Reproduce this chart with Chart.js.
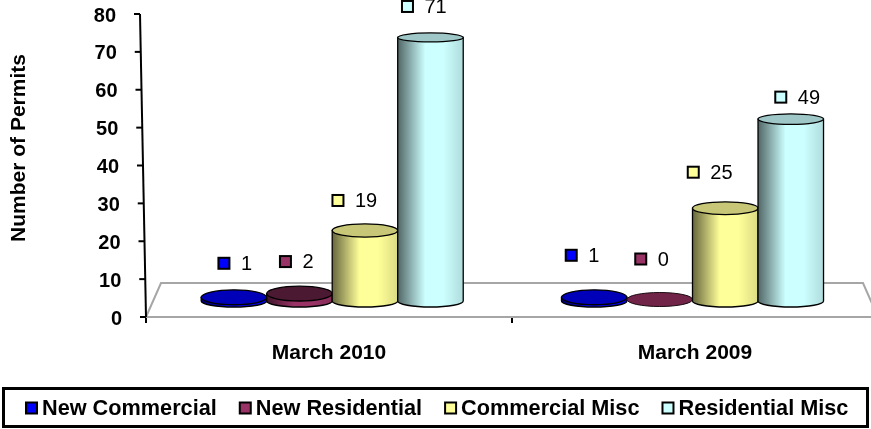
<!DOCTYPE html>
<html>
<head>
<meta charset="utf-8">
<title>Number of Permits</title>
<script src="https://cdn.jsdelivr.net/npm/chart.js@4"></script>
<style>
  html, body { margin: 0; padding: 0; background: #fff; overflow: hidden; }
  canvas { display: block; }
</style>
</head>
<body>
<canvas id="permits" width="880" height="429"></canvas>
<script>
const categories = ["March 2010", "March 2009"];
const seriesNames = ["New Commercial", "New Residential", "Commercial Misc", "Residential Misc"];
const newCommercial = [1, 1];
const newResidential = [2, 0];
const commercialMisc = [19, 25];
const residentialMisc = [71, 49];
const seriesColors = ["#0000ff", "#993366", "#ffff99", "#ccffff"];

const FONT = '"Liberation Sans", Arial, sans-serif';

// the picture is a fake 3d one, so the columns sit back from the axis
const groupShift = [3.2, -2.5];
const floorDepth = 34;
const columnLift = 16;
const columnSquash = 0.98;
const axisLean = 6;
const topShade = [0.28, 0.5, 0.22, 0.22];

// hand placed value labels, relative to centre and top of each column [series][group]
const labelOffsets = [
  [[-10, -34], [-23, -42]],
  [[-14, -32], [-19, -42]],
  [[-27, -30], [-32, -36]],
  [[-23, -31], [-10, -22]]
];

function drawMarker(ctx, x, y, color) {
  ctx.fillStyle = color;
  ctx.strokeStyle = "#000";
  ctx.lineWidth = 2;
  ctx.fillRect(x - 5.5, y - 5.5, 11, 11);
  ctx.strokeRect(x - 5.5, y - 5.5, 11, 11);
}

function drawColumn(ctx, cx, top, base, width, color, shade) {
  const left = cx - width / 2;
  const rx = width / 2;
  const height = base - top;
  const ryBottom = 6;
  const ryTop = Math.max(4.5, 7.5 - height * 0.012);

  if (height <= 0) {
    ctx.beginPath();
    ctx.ellipse(cx, base - 1.5, rx, 7, 0, 0, Math.PI * 2);
    ctx.fillStyle = "#722448";
    ctx.fill();
    ctx.lineWidth = 1;
    ctx.strokeStyle = "#1a0a12";
    ctx.stroke();
    return;
  }

  ctx.beginPath();
  ctx.moveTo(left, top);
  ctx.lineTo(left, base);
  ctx.ellipse(cx, base, rx, ryBottom, 0, Math.PI, 0, true);
  ctx.lineTo(left + width, top);
  ctx.closePath();
  ctx.fillStyle = color;
  ctx.fill();

  const grad = ctx.createLinearGradient(left, 0, left + width, 0);
  grad.addColorStop(0, "rgba(0,0,0,0.6)");
  grad.addColorStop(0.42, "rgba(0,0,0,0)");
  grad.addColorStop(0.7, "rgba(0,0,0,0)");
  grad.addColorStop(1, "rgba(0,0,0,0.14)");
  ctx.fillStyle = grad;
  ctx.fill();
  ctx.lineWidth = 1.3;
  ctx.strokeStyle = "#000";
  ctx.stroke();

  ctx.beginPath();
  ctx.ellipse(cx, top, rx, ryTop, 0, 0, Math.PI * 2);
  ctx.fillStyle = color;
  ctx.fill();
  ctx.fillStyle = "rgba(0,0,0," + shade + ")";
  ctx.fill();
  ctx.stroke();
}

const fakeThreeD = {
  id: "fakeThreeD",
  beforeDatasetsDraw(chart) {
    const ctx = chart.ctx;
    const area = chart.chartArea;
    ctx.save();
    // floor
    ctx.strokeStyle = "#a6a6a6";
    ctx.lineWidth = 2;
    ctx.beginPath();
    ctx.moveTo(area.left, area.bottom);
    ctx.lineTo(area.left + 15, area.bottom - floorDepth);
    ctx.lineTo(area.right - 15, area.bottom - floorDepth);
    ctx.lineTo(area.right, area.bottom);
    ctx.closePath();
    ctx.stroke();
    ctx.restore();
  },
  // columns are drawn below from the bar elements instead
  beforeDatasetDraw() {
    return false;
  },
  afterDatasetsDraw(chart) {
    const ctx = chart.ctx;
    const yScale = chart.scales.y;
    const base = yScale.getPixelForValue(0) - columnLift;
    ctx.save();
    categories.forEach(function (cat, g) {
      chart.data.datasets.forEach(function (ds, s) {
        const bar = chart.getDatasetMeta(s).data[g];
        const height = (yScale.getPixelForValue(0) - bar.y) * columnSquash;
        drawColumn(ctx, bar.x + groupShift[g], base - height, base, bar.width, seriesColors[s], topShade[s]);
      });
    });

    // value labels
    ctx.textAlign = "left";
    ctx.textBaseline = "middle";
    categories.forEach(function (cat, g) {
      chart.data.datasets.forEach(function (ds, s) {
        const bar = chart.getDatasetMeta(s).data[g];
        const height = (yScale.getPixelForValue(0) - bar.y) * columnSquash;
        const mx = bar.x + groupShift[g] + labelOffsets[s][g][0];
        const my = base - height + labelOffsets[s][g][1];
        drawMarker(ctx, mx, my, seriesColors[s]);
        ctx.fillStyle = "#000";
        ctx.font = "20px " + FONT;
        ctx.fillText(ds.data[g], mx + 17, my + 1);
      });
    });
    ctx.restore();
  },
  afterDraw(chart) {
    const ctx = chart.ctx;
    const area = chart.chartArea;
    const yScale = chart.scales.y;
    ctx.save();

    // leaning y axis with its ticks and labels
    ctx.strokeStyle = "#000";
    ctx.lineWidth = 2;
    ctx.beginPath();
    ctx.moveTo(area.left, area.bottom);
    ctx.lineTo(area.left - axisLean, area.top);
    ctx.stroke();
    ctx.fillStyle = "#000";
    ctx.font = "bold 20px " + FONT;
    ctx.textAlign = "right";
    ctx.textBaseline = "middle";
    yScale.ticks.forEach(function (tick) {
      const y = yScale.getPixelForValue(tick.value);
      const x = area.left - axisLean * (y - area.bottom) / (area.top - area.bottom);
      ctx.beginPath();
      ctx.moveTo(x, y);
      ctx.lineTo(x - 6, y);
      ctx.stroke();
      ctx.fillText(tick.value, x - 24, y + 2);
    });

    // axis title
    ctx.save();
    ctx.translate(19, 148);
    ctx.rotate(-Math.PI / 2);
    ctx.textAlign = "center";
    ctx.font = "bold 21px " + FONT;
    ctx.fillText("Number of Permits", 0, 0);
    ctx.restore();

    // legend box
    ctx.strokeStyle = "#000";
    ctx.lineWidth = 3;
    ctx.strokeRect(3.5, 388.5, 864, 38);
    ctx.font = "bold 21.7px " + FONT;
    ctx.textAlign = "left";
    let x = 25;
    chart.data.datasets.forEach(function (ds, s) {
      drawMarker(ctx, x + 6.5, 408, seriesColors[s]);
      ctx.fillStyle = "#000";
      ctx.fillText(ds.label, x + 17, 409);
      x += 17 + ctx.measureText(ds.label).width + 22;
    });
    ctx.restore();
  }
};

new Chart(document.getElementById("permits"), {
  type: "bar",
  data: {
    labels: categories,
    datasets: [
      { label: seriesNames[0], data: newCommercial, backgroundColor: seriesColors[0] },
      { label: seriesNames[1], data: newResidential, backgroundColor: seriesColors[1] },
      { label: seriesNames[2], data: commercialMisc, backgroundColor: seriesColors[2] },
      { label: seriesNames[3], data: residentialMisc, backgroundColor: seriesColors[3] }
    ]
  },
  options: {
    responsive: false,
    animation: false,
    layout: { padding: { top: 14, right: 2 } },
    datasets: { bar: { barPercentage: 1, categoryPercentage: 0.716 } },
    plugins: {
      legend: { display: false },
      tooltip: { enabled: false }
    },
    scales: {
      x: {
        border: { display: false },
        grid: { drawOnChartArea: false, color: "#000", lineWidth: 2, tickLength: 6 },
        ticks: { color: "#000", padding: 18, font: { family: FONT, size: 21, weight: "bold" }, maxRotation: 0 },
        afterFit(scale) { scale.height = 112; }
      },
      y: {
        min: 0,
        max: 80,
        border: { display: false },
        grid: { display: false },
        ticks: { display: false, stepSize: 10 },
        afterFit(scale) { scale.width = 146; }
      }
    }
  },
  plugins: [fakeThreeD]
});
</script>
</body>
</html>
